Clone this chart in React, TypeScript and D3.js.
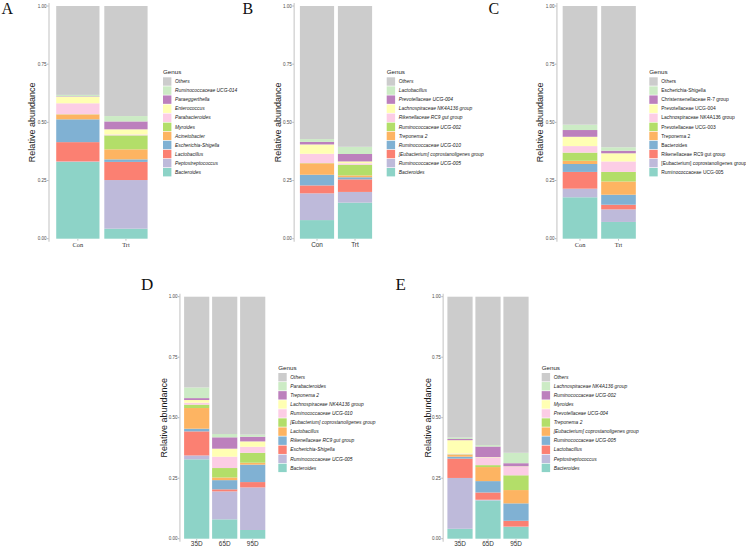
import React from "react";
import * as d3 from "d3";

// ---------- DATA ----------
const groupsTop = ["Con", "Trt"];
const groupsBottom = ["35D", "65D", "95D"];
const yTicks = [0, 0.25, 0.5, 0.75, 1];
const palette = ["#8DD3C7", "#BEBADA", "#FB8072", "#80B1D3", "#FDB462", "#B3DE69", "#FCCDE5", "#FFFFB3", "#BC80BD", "#CCEBC5", "#CCCCCC"];

// genus order: bottom of stack -> top of stack
const genusA = ["Bacteroides", "Peptostreptococcus", "Lactobacillus", "Escherichia-Shigella", "Acinetobacter", "Myroides", "Parabacteroides", "Enterococcus", "Paraeggerthella", "Ruminococcaceae UCG-014", "Others"];
const conA = [0.33, 0.002, 0.083, 0.098, 0.021, 0.001, 0.047, 0.028, 0.002, 0.006, 0.382];
const trtA = [0.043, 0.209, 0.078, 0.011, 0.043, 0.06, 0.004, 0.022, 0.034, 0.023, 0.473];

const genusB = ["Bacteroides", "Ruminococcaceae UCG-005", "[Eubacterium] coprostanoligenes group", "Ruminococcaceae UCG-010", "Treponema 2", "Ruminococcaceae UCG-002", "Rikenellaceae RC9 gut group", "Lachnospiraceae NK4A136 group", "Prevotellaceae UCG-004", "Lactobacillus", "Others"];
const conB = [0.08, 0.115, 0.034, 0.046, 0.049, 0.001, 0.04, 0.04, 0.011, 0.012, 0.572];
const trtB = [0.155, 0.046, 0.054, 0.009, 0.008, 0.046, 0.006, 0.008, 0.032, 0.031, 0.605];

const genusC = ["Ruminococcaceae UCG-005", "[Eubacterium] coprostanoligenes group", "Rikenellaceae RC9 gut group", "Bacteroides", "Treponema 2", "Prevotellaceae UCG-003", "Lachnospiraceae NK4A136 group", "Prevotellaceae UCG-004", "Christensenellaceae R-7 group", "Escherichia-Shigella", "Others"];
const conC = [0.178, 0.037, 0.072, 0.034, 0.014, 0.035, 0.028, 0.04, 0.029, 0.023, 0.51];
const trtC = [0.072, 0.054, 0.02, 0.043, 0.057, 0.041, 0.045, 0.035, 0.011, 0.015, 0.607];

const genusD = ["Bacteroides", "Ruminococcaceae UCG-005", "Escherichia-Shigella", "Rikenellaceae RC9 gut group", "Lactobacillus", "[Eubacterium] coprostanoligenes group", "Ruminococcaceae UCG-010", "Lachnospiraceae NK4A136 group", "Treponema 2", "Parabacteroides", "Others"];
const d35 = [0.328, 0.016, 0.0995, 0.011, 0.0855, 0.014, 0.008, 0.011, 0.008, 0.044, 0.375];
const d65 = [0.08, 0.1156, 0.0084, 0.038, 0.011, 0.039, 0.047, 0.033, 0.047, 0.0135, 0.5675];
const d95 = [0.036, 0.176, 0.022, 0.072, 0.008, 0.041, 0.025, 0.022, 0.0195, 0.0085, 0.57];

const genusE = ["Bacteroides", "Peptostreptococcus", "Lactobacillus", "Ruminococcaceae UCG-005", "[Eubacterium] coprostanoligenes group", "Treponema 2", "Prevotellaceae UCG-004", "Myroides", "Ruminococcaceae UCG-002", "Lachnospiraceae NK4A136 group", "Others"];
const e35 = [0.041, 0.21, 0.08, 0.008, 0.008, 0.002, 0.003, 0.055, 0.005, 0.006, 0.582];
const e65 = [0.158, 0.003, 0.03, 0.047, 0.058, 0.008, 0.031, 0.002, 0.044, 0.006, 0.613];
const e95 = [0.049, 0.001, 0.024, 0.072, 0.055, 0.061, 0.035, 0.002, 0.013, 0.043, 0.645];

// ---------- LAYOUT ----------
const SANS = "'Liberation Sans', Arial, Helvetica, sans-serif";
const SERIF = "'Liberation Serif', 'Times New Roman', serif";

type Layout = {
  letter: string; letterX: number; letterY: number; letterSize: number;
  xRange: [number, number]; yRange: [number, number];
  titleX: number; legendX: number; legendY: number;
  xFont: string; xLabelY: number; italic: boolean;
};

const panels: { genus: string[]; groups: string[]; values: number[][]; layout: Layout }[] = [
  { genus: genusA, groups: groupsTop, values: [conA, trtA],
    layout: { letter: "A", letterX: 1.5, letterY: 14, letterSize: 16, xRange: [49, 154.8], yRange: [238.7, 6], titleX: 35, legendX: 163, legendY: 77.3, xFont: SERIF, xLabelY: 246.7, italic: true } },
  { genus: genusB, groups: groupsTop, values: [conB, trtB],
    layout: { letter: "B", letterX: 242.5, letterY: 14, letterSize: 16, xRange: [294.2, 377.8], yRange: [238.7, 6], titleX: 281, legendX: 386.7, legendY: 77.3, xFont: SANS, xLabelY: 246.7, italic: true } },
  { genus: genusC, groups: groupsTop, values: [conC, trtC],
    layout: { letter: "C", letterX: 488.5, letterY: 14, letterSize: 16, xRange: [556.9, 641.6], yRange: [238.7, 6], titleX: 543, legendX: 649.3, legendY: 77.3, xFont: SERIF, xLabelY: 246.7, italic: false } },
  { genus: genusD, groups: groupsBottom, values: [d35, d65, d95],
    layout: { letter: "D", letterX: 141, letterY: 289.5, letterSize: 17, xRange: [179.9, 269.5], yRange: [538.7, 296.7], titleX: 167.3, legendX: 278.3, legendY: 373, xFont: SANS, xLabelY: 546, italic: true } },
  { genus: genusE, groups: groupsBottom, values: [e35, e65, e95],
    layout: { letter: "E", letterX: 395.5, letterY: 289.5, letterSize: 17, xRange: [443.2, 532.8], yRange: [538.7, 296.7], titleX: 430.5, legendX: 541.7, legendY: 373, xFont: SANS, xLabelY: 546, italic: true } },
];

function Panel({ genus, groups, values, layout }: { genus: string[]; groups: string[]; values: number[][]; layout: Layout }) {
  const x = d3.scaleBand<string>().domain(groups).range(layout.xRange).paddingInner(0.1).paddingOuter(0.15);
  const y = d3.scaleLinear().domain([0, 1]).range(layout.yRange);
  const rows = groups.map((g, gi) => {
    const r: Record<string, any> = { group: g };
    genus.forEach((k, ki) => (r[k] = values[gi][ki]));
    return r;
  });
  const series = d3.stack<Record<string, any>>().keys(genus)(rows);
  const color = d3.scaleOrdinal<string, string>().domain(genus).range(palette);
  const axisX = layout.xRange[0];
  const legendItems = [...genus].reverse();
  const step = 9.07;
  const yMid = (layout.yRange[0] + layout.yRange[1]) / 2;
  return (
    <g>
      <text x={layout.letterX} y={layout.letterY} fontFamily={SERIF} fontSize={layout.letterSize} fill="#111">{layout.letter}</text>
      {series.map((s) => (
        <g key={s.key} fill={color(s.key)}>
          {s.map((d, i) => (
            <rect key={i} x={x(d.data.group as string)} width={x.bandwidth()} y={y(d[1])} height={Math.max(0, y(d[0]) - y(d[1]))} />
          ))}
        </g>
      ))}
      <line x1={axisX} x2={axisX} y1={layout.yRange[1] - 3} y2={layout.yRange[0] + 3} stroke="#d9d9d9" strokeWidth={1.6} />
      {yTicks.map((t) => (
        <g key={t}>
          <line x1={axisX - 1.8} x2={axisX - 0.6} y1={y(t)} y2={y(t)} stroke="#555" strokeWidth={0.5} />
          <text x={axisX - 2.3} y={y(t)} dy="0.35em" textAnchor="end" fontFamily={SANS} fontSize={4.6} fill="#4d4d4d">{t.toFixed(2)}</text>
        </g>
      ))}
      {groups.map((g) => (
        <g key={g}>
          <line x1={x(g)! + x.bandwidth() / 2} x2={x(g)! + x.bandwidth() / 2} y1={layout.yRange[0] + 0.6} y2={layout.yRange[0] + 1.8} stroke="#555" strokeWidth={0.5} />
          <text x={x(g)! + x.bandwidth() / 2} y={layout.xLabelY} textAnchor="middle" fontFamily={layout.xFont} fontSize={6.4} fill="#333">{g}</text>
        </g>
      ))}
      <text transform={`translate(${layout.titleX},${yMid}) rotate(-90)`} textAnchor="middle" fontFamily={SANS} fontSize={9} fill="#1a1a1a">Relative abundance</text>
      <text x={layout.legendX} y={layout.legendY - 3.3} fontFamily={SANS} fontSize={6.2} fill="#1a1a1a">Genus</text>
      {legendItems.map((k, i) => (
        <g key={k}>
          <rect x={layout.legendX} y={layout.legendY + i * step} width={8.4} height={8.4} fill={color(k)} />
          <text x={layout.legendX + 12} y={layout.legendY + i * step + 4.2} dy="0.35em" fontFamily={SANS} fontSize={4.9} fontStyle={layout.italic ? "italic" : "normal"} fill="#222">{k}</text>
        </g>
      ))}
    </g>
  );
}

export default function App() {
  return (
    <svg width={746} height={549} style={{ position: "absolute", left: 0, top: 0, background: "#fff" }}>
      <rect width={746} height={549} fill="#fff" />
      {panels.map((p) => (
        <Panel key={p.layout.letter} {...p} />
      ))}
    </svg>
  );
}
